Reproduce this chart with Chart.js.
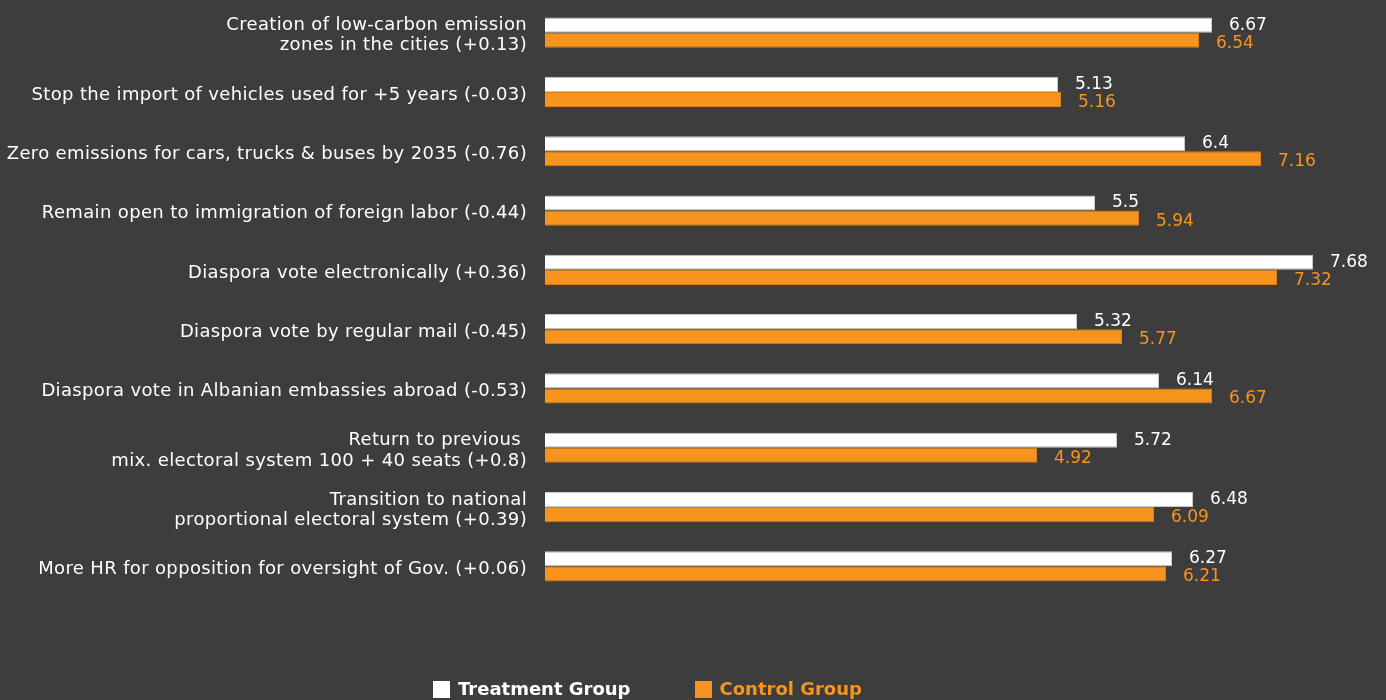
<!DOCTYPE html>
<html lang="en">
<head>
  <meta charset="UTF-8">
  <title>Treatment vs Control</title>
  <style>
    body {
      margin: 0;
      padding: 0;
      background-color: #3d3d3d;
      font-family: "DejaVu Sans", Arial, sans-serif;
    }
    .wrap {
      position: relative;
      width: 1386px;
      height: 700px;
    }
    .legend {
      position: absolute;
      top: 679px;
      left: 433px;
      display: flex;
      font-weight: bold;
      font-size: 18px;
      line-height: 20px;
    }
    .legend span.item {
      display: flex;
      align-items: center;
      margin-right: 64px;
    }
    .legend span.box {
      width: 17px;
      height: 17px;
      margin-right: 8px;
      display: inline-block;
    }
  </style>
  <script src="https://cdn.jsdelivr.net/npm/chart.js"></script>
</head>
<body>
  <div class="wrap">
    <canvas id="barChart" width="1386" height="700"></canvas>
    <div class="legend" id="legend"></div>
  </div>

  <script>
    const categories = [
      ['Creation of low-carbon emission', 'zones in the cities (+0.13)'],
      'Stop the import of vehicles used for +5 years (-0.03)',
      'Zero emissions for cars, trucks & buses by 2035 (-0.76)',
      'Remain open to immigration of foreign labor (-0.44)',
      'Diaspora vote electronically (+0.36)',
      'Diaspora vote by regular mail (-0.45)',
      'Diaspora vote in Albanian embassies abroad (-0.53)',
      ['Return to previous ', 'mix. electoral system 100 + 40 seats (+0.8)'],
      ['Transition to national', 'proportional electoral system (+0.39)'],
      'More HR for opposition for oversight of Gov. (+0.06)'
    ];
    const treatment = [6.67, 5.13, 6.4, 5.5, 7.68, 5.32, 6.14, 5.72, 6.48, 6.27];
    const control = [6.54, 5.16, 7.16, 5.94, 7.32, 5.77, 6.67, 4.92, 6.09, 6.21];

    const WHITE = '#ffffff';
    const ORANGE = '#f7941d';
    const FONT = '"DejaVu Sans", Arial, sans-serif';

    // slightly looser tracking for the category labels only
    const labelSpacing = {
      id: 'labelSpacing',
      beforeDraw(chart) { chart.ctx.letterSpacing = '0.35px'; },
      beforeDatasetsDraw(chart) { chart.ctx.letterSpacing = '0px'; }
    };

    // value text just past the end of each bar
    const valueLabels = {
      id: 'valueLabels',
      afterDatasetsDraw(chart) {
        const ctx = chart.ctx;
        ctx.save();
        ctx.font = '17px ' + FONT;
        ctx.textBaseline = 'middle';
        ctx.textAlign = 'left';
        chart.data.datasets.forEach((ds, i) => {
          const meta = chart.getDatasetMeta(i);
          ctx.fillStyle = ds.labelColor;
          meta.data.forEach((bar, j) => {
            const dy = i === 0 ? 0 : 3;
            ctx.fillText(String(ds.data[j]), bar.x + 17, bar.y + dy);
          });
        });
        ctx.restore();
      }
    };

    const ctx = document.getElementById('barChart').getContext('2d');
    const chart = new Chart(ctx, {
      type: 'bar',
      data: {
        labels: categories,
        datasets: [{
          label: 'Treatment Group',
          data: treatment,
          backgroundColor: WHITE,
          borderColor: '#c8c8c8',
          borderWidth: 1,
          labelColor: WHITE
        }, {
          label: 'Control Group',
          data: control,
          backgroundColor: ORANGE,
          borderColor: '#d9801a',
          borderWidth: 1,
          labelColor: ORANGE
        }]
      },
      options: {
        indexAxis: 'y',
        responsive: false,
        animation: false,
        categoryPercentage: 0.51,
        barPercentage: 1,
        layout: {
          padding: { top: 3, bottom: 104, left: 0, right: 0 }
        },
        plugins: {
          legend: { display: false },
          tooltip: { enabled: false }
        },
        scales: {
          x: {
            display: false,
            min: 0,
            max: 8.41
          },
          y: {
            afterFit(scale) {
              scale.width = 545;
              scale.paddingTop = 0;
              scale.paddingBottom = 0;
            },
            grid: { display: false, drawTicks: false },
            border: { display: false },
            ticks: {
              color: WHITE,
              padding: 18,
              labelOffset: 3,
              font: { family: FONT, size: 18, lineHeight: 1.12 }
            }
          }
        }
      },
      plugins: [labelSpacing, valueLabels]
    });

    // legend row under the chart
    const legend = document.getElementById('legend');
    chart.data.datasets.forEach(ds => {
      const item = document.createElement('span');
      item.className = 'item';
      item.style.color = ds.labelColor;
      const box = document.createElement('span');
      box.className = 'box';
      box.style.backgroundColor = ds.backgroundColor;
      item.appendChild(box);
      item.appendChild(document.createTextNode(ds.label));
      legend.appendChild(item);
    });
  </script>
</body>
</html>
